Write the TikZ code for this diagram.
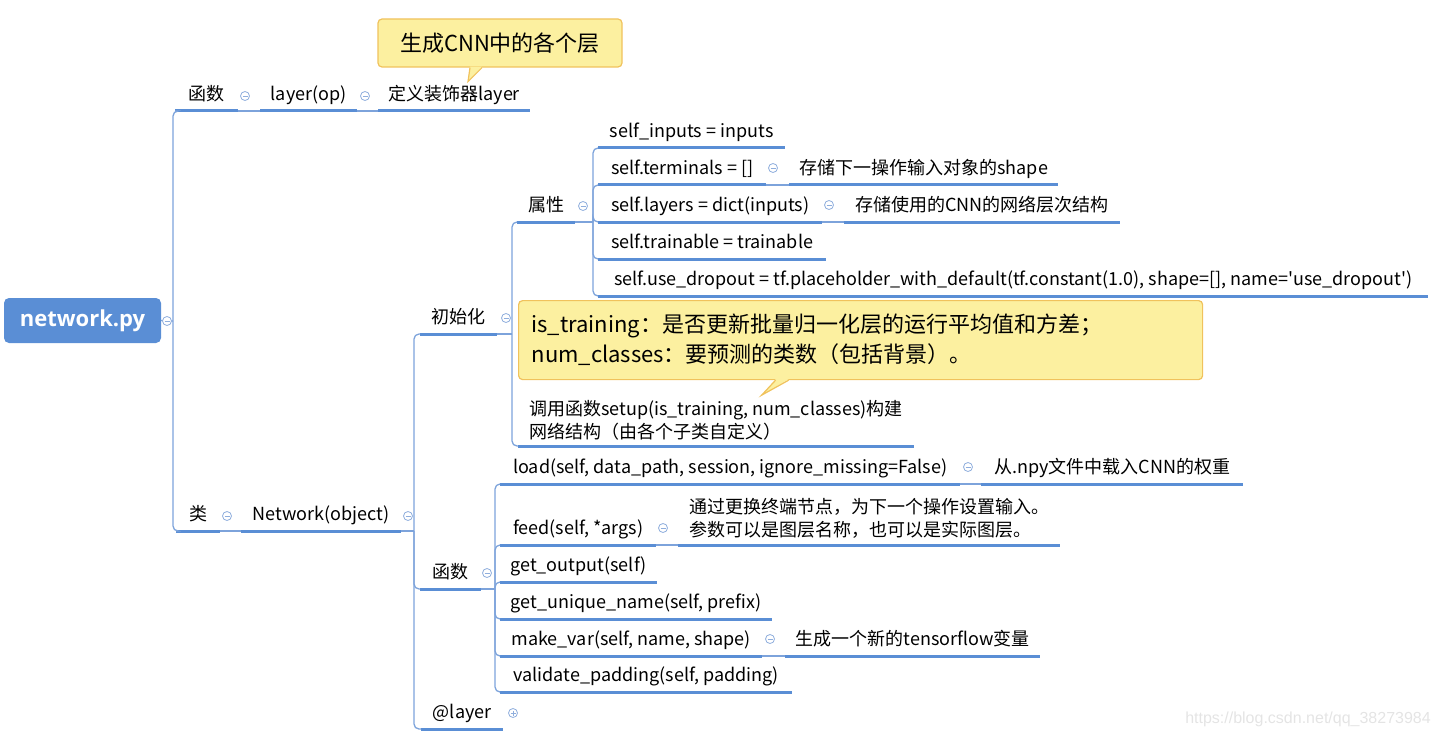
\documentclass[tikz,border=0pt]{standalone}
\usepackage{fontspec}
\setmainfont{Noto Sans CJK SC}
\newfontfamily\rootfont{Open Sans}
\newfontfamily\markfont{Liberation Sans}

\definecolor{mapblue}{HTML}{5A8ED5}
\definecolor{linkblue}{HTML}{7DA3DB}
\definecolor{foldline}{HTML}{8FAEDD}
\definecolor{notefill}{HTML}{FCF0A0}
\definecolor{noteline}{HTML}{F0C25C}
\definecolor{markgray}{HTML}{E4E4E4}

\tikzset{
  uline/.style={draw=mapblue, line width=3pt},
  topic/.style={anchor=south west, inner xsep=0pt, inner ysep=5pt,
    text height=13pt, text depth=5pt, minimum width=#1,
    font=\fontsize{18pt}{23pt}\selectfont,
    append after command={(\tikzlastnode.south west) edge[uline] (\tikzlastnode.south east)}},
  longtopic/.style={anchor=south west, inner xsep=#1, inner ysep=6pt,
    align=left, font=\fontsize{18pt}{23pt}\selectfont,
    append after command={(\tikzlastnode.south west) edge[uline] (\tikzlastnode.south east)}},
  rootbox/.style={fill=mapblue, rounded corners=5pt, text=white,
    minimum width=157pt, minimum height=45pt,
    font=\rootfont\bfseries\fontsize{22pt}{26pt}\selectfont},
  notebox/.style={draw=noteline, fill=notefill, line width=1.2pt,
    rounded corners=4pt, font=\fontsize{22pt}{30pt}\selectfont},
  branch/.style={draw=linkblue, line width=1.3pt, rounded corners=5pt},
  fold/.style={circle, draw=foldline, fill=white, line width=0.8pt,
    minimum size=9pt, inner sep=0pt,
    path picture={\draw[foldline, line width=0.8pt]
      ([xshift=-2.5pt]path picture bounding box.center) --
      ([xshift=2.5pt]path picture bounding box.center);}},
  unfold/.style={fold,
    append after command={([yshift=-2.5pt]\tikzlastnode.center) edge[foldline, line width=0.8pt] ([yshift=2.5pt]\tikzlastnode.center)}},
}

\begin{document}
\begin{tikzpicture}[x=1pt, y=-1pt]
    \useasboundingbox (0,0) rectangle (1439,738);

    % Root
    \node[rootbox] (root) at (82.5,320.5) {network.py};

    % Module level function
    \node[topic=63pt] (fnmod) at (175,111) {函数};
    \node[topic=97pt] (layerop) at (260,111) {layer(op)};
    \node[topic=152pt] (deco) at (378,111) {定义装饰器layer};
    \node[notebox, minimum width=244pt, minimum height=48pt] (tipcnn) at (500,43) {生成CNN中的各个层};

    % Class
    \node[topic=44pt] (cls) at (176,531) {类};
    \node[topic=160pt] (net) at (241,531) {Network(object)};

    % Network members
    \node[topic=77pt] (init) at (420,334) {初始化};
    \node[topic=61pt] (fncls) at (420,589) {函数};
    \node[topic=82pt] (atlayer) at (421,729) {@layer};

    % Constructor
    \node[topic=58pt] (attr) at (517,222) {属性};
    \node[longtopic=11pt] (setup) at (518,446) {调用函数setup(is\_training, num\_classes)构建\\网络结构（由各个子类自定义）};
    \node[notebox, anchor=north west, align=left, text width=658pt, inner xsep=13pt, minimum height=79pt] (tipargs) at (518,300)
        {is\_training：是否更新批量归一化层的运行平均值和方差；\\num\_classes：要预测的类数（包括背景）。};

    % Attributes
    \node[topic=187pt] (inputs) at (598,148) {self\_inputs = inputs};
    \node[topic=168pt] (terms) at (598,185) {self.terminals = []};
    \node[topic=269pt] (termsnote) at (789,185) {存储下一操作输入对象的shape};
    \node[topic=224pt] (layers) at (598,222) {self.layers = dict(inputs)};
    \node[topic=276pt] (layersnote) at (844,222) {存储使用的CNN的网络层次结构};
    \node[topic=228pt] (train) at (598,259) {self.trainable = trainable};
    \node[topic=830pt] (drop) at (598,296) {self.use\_dropout = tf.placeholder\_with\_default(tf.constant(1.0), shape=[], name=\textquotesingle use\_dropout\textquotesingle)};

    % Methods
    \node[topic=460pt] (load) at (500,484) {load(self, data\_path, session, ignore\_missing=False)};
    \node[topic=262pt] (loadnote) at (981,484) {从.npy文件中载入CNN的权重};
    \node[topic=156pt] (feed) at (500,545) {feed(self, *args)};
    \node[longtopic=11pt] (feednote) at (678,545) {通过更换终端节点，为下一个操作设置输入。\\参数可以是图层名称，也可以是实际图层。};
    \node[topic=157pt] (getout) at (500,582) {get\_output(self)};
    \node[topic=272pt] (uname) at (500,619) {get\_unique\_name(self, prefix)};
    \node[topic=262pt] (mkvar) at (500,656) {make\_var(self, name, shape)};
    \node[topic=255pt] (mkvarnote) at (785,656) {生成一个新的tensorflow变量};
    \node[topic=292pt] (pad) at (500,692) {validate\_padding(self, padding)};

    % Callout tails
    \fill[notefill] ([xshift=-30pt,yshift=1pt]tipcnn.south) -- ([xshift=-32pt,yshift=-14pt]tipcnn.south) -- ([xshift=-18pt,yshift=1pt]tipcnn.south) -- cycle;
    \draw[noteline, line width=1.2pt] ([xshift=-30pt]tipcnn.south) -- ([xshift=-32pt,yshift=-14pt]tipcnn.south) -- ([xshift=-18pt]tipcnn.south);
    \fill[notefill] ([xshift=-85pt,yshift=1pt]tipargs.south) -- ([xshift=-99pt,yshift=-15pt]tipargs.south) -- ([xshift=-72pt,yshift=1pt]tipargs.south) -- cycle;
    \draw[noteline, line width=1.2pt] ([xshift=-85pt]tipargs.south) -- ([xshift=-99pt,yshift=-15pt]tipargs.south) -- ([xshift=-72pt]tipargs.south);

    % Connectors
    \coordinate (jroot) at (173,321);
    \draw[branch] (root.east) -- (jroot);
    \foreach \c in {fnmod,cls} \draw[branch] (jroot) |- (\c.south west);
    \draw[branch] (fnmod.south east) -- (layerop.south west);
    \draw[branch] (layerop.south east) -- (deco.south west);
    \draw[branch] (cls.south east) -- (net.south west);

    \coordinate (jnet) at (414,531);
    \draw[branch] (net.south east) -- (jnet);
    \foreach \c in {init,fncls,atlayer} \draw[branch] (jnet) |- (\c.south west);

    \coordinate (jinit) at (512,334);
    \draw[branch] (init.south east) -- (jinit);
    \foreach \c in {attr,setup} \draw[branch] (jinit) |- (\c.south west);

    \coordinate (jattr) at (593,222);
    \draw[branch] (attr.south east) -- (jattr);
    \foreach \c in {inputs,terms,layers,train,drop} \draw[branch] (jattr) |- (\c.south west);
    \draw[branch] (terms.south east) -- (termsnote.south west);
    \draw[branch] (layers.south east) -- (layersnote.south west);

    \coordinate (jfn) at (495,589);
    \draw[branch] (fncls.south east) -- (jfn);
    \foreach \c in {load,feed,getout,uname,mkvar,pad} \draw[branch] (jfn) |- (\c.south west);
    \draw[branch] (load.south east) -- (loadnote.south west);
    \draw[branch] (feed.south east) -- (feednote.south west);
    \draw[branch] (mkvar.south east) -- (mkvarnote.south west);

    % Fold markers
    \node[fold] (f1) at (167,321) {};
    \node[fold] (f2) at (245,96) {};
    \node[fold] (f3) at (365,96) {};
    \node[fold] (f4) at (227,516) {};
    \node[fold] (f5) at (408,516) {};
    \node[fold] (f6) at (506,318) {};
    \node[fold] (f7) at (487,573) {};
    \node[unfold] (f8) at (513,713) {};
    \node[fold] (f9) at (583,206) {};
    \node[fold] (f10) at (773,168) {};
    \node[fold] (f11) at (829,205) {};
    \node[fold] (f12) at (968,467) {};
    \node[fold] (f13) at (663,528) {};
    \node[fold] (f14) at (770,639) {};

    % Watermark
    \node[font=\markfont\fontsize{16pt}{19pt}\selectfont, text=markgray] (mark) at (1308,719) {https://blog.csdn.net/qq\_38273984};
\end{tikzpicture}
\end{document}
